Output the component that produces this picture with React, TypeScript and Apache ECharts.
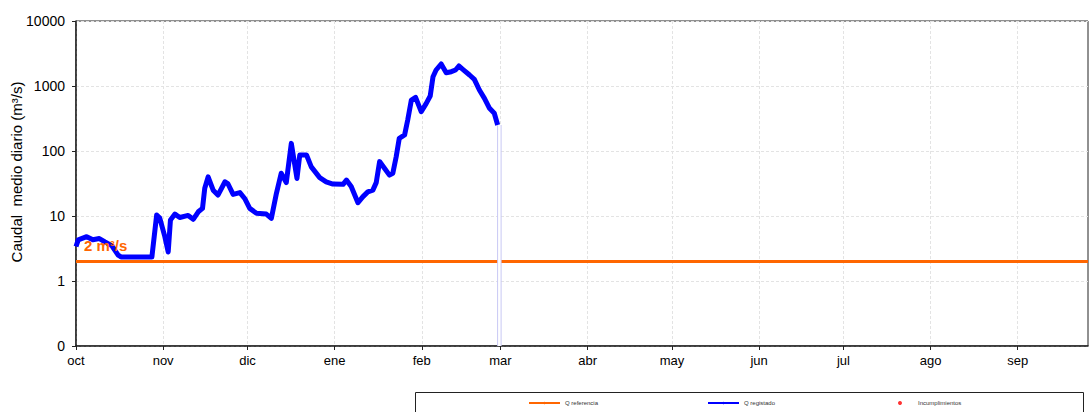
import React, { useEffect, useRef } from "react";
import * as echarts from "echarts";

// Days since 1 October (hydrological year)
const monthStarts = [0, 31, 61, 92, 123, 151, 182, 212, 243, 273, 304, 335];
const monthLabels = ["oct", "nov", "dic", "ene", "feb", "mar", "abr", "may", "jun", "jul", "ago", "sep"];
const yTicks = [0.1, 1, 10, 100, 1000, 10000];

const flowDays = [
  0, 0.8, 3.8, 6, 8.3, 10.3, 12.7, 15, 16, 27, 28.7, 29.8, 31.6, 32.8, 33.6, 35.2, 36.9, 39.9, 41.7, 43.5,
  45, 45.8, 47, 48.8, 50.5, 53, 54, 55.9, 58.3, 60, 61.8, 64.2, 67.7, 69.5, 71.3, 73, 74.8, 76.6, 78.6, 79.6,
  82, 83.7, 86.7, 89, 91.4, 95, 96.2, 97.9, 100.3, 102, 103.8, 105.6, 106.8, 108, 109.8, 111.5, 112.7, 113.9, 115, 116.9,
  118, 119.3, 120.8, 122.8, 124.6, 126, 127, 128.1, 129.9, 131.7, 133.5, 135, 136.2, 137.6, 140, 141.7, 143.5, 145.3, 147.1, 148.8,
  150,
];
const flowValues = [
  3.4, 4.3, 4.8, 4.3, 4.5, 4.0, 3.5, 2.5, 2.35, 2.35, 10.4, 9.3, 4.8, 2.8, 8.7, 10.7, 9.5, 10.2, 8.9, 11.6,
  13.1, 26.7, 40, 25, 21, 33.6, 31.6, 21.5, 22.9, 18.6, 13.1, 11, 10.7, 9.2, 22.3, 45.4, 32.6, 131, 37.8, 86.7,
  86.7, 57, 39, 33.6, 31, 30.7, 35.7, 28.5, 16, 19.7, 23.5, 25, 32.6, 68.7, 54, 42.6, 45.4, 81.6, 157, 177,
  300, 609, 670, 403, 541, 701, 1390, 1762, 2180, 1600, 1660, 1762, 2030, 1806, 1476, 1267, 867, 646, 454, 380,
  251,
];

const refValue = 2;
const refDays = [0, 360];
const dropDays = [150.6, 150.6];
const dropValues = [251, 0.1];

export default function App() {
  const ref = useRef<HTMLDivElement>(null);
  useEffect(() => {
    if (!ref.current) return;
    const chart = echarts.init(ref.current, null, { renderer: "svg" });
    const flowData = flowDays.map((d, i) => [d, flowValues[i]]);
    const refData = refDays.map((d) => [d, refValue]);
    const dropData = dropDays.map((d, i) => [d, dropValues[i]]);
    chart.setOption({
      animation: false,
      textStyle: { fontFamily: "Liberation Sans, Arial, sans-serif" },
      grid: {
        left: 76,
        top: 21,
        right: 1,
        bottom: 66,
        show: true,
        borderColor: "#222",
        borderWidth: 1,
        outerBoundsMode: "none",
        containLabel: false,
      },
      xAxis: {
        type: "value",
        min: 0,
        max: 360,
        axisLine: { lineStyle: { color: "#222", width: 1.5 } },
        axisTick: { customValues: monthStarts, length: 4, lineStyle: { color: "#222" } },
        axisLabel: {
          customValues: monthStarts,
          formatter: (v: number) => monthLabels[monthStarts.indexOf(Math.round(v))] ?? "",
          color: "#000",
          fontSize: 13,
          margin: 8,
        },
        splitLine: { show: true, lineStyle: { color: "#e3e3e3", type: [3, 2], width: 1 } },
      },
      yAxis: {
        type: "log",
        logBase: 10,
        min: 0.1,
        max: 10000,
        name: "Caudal  medio diario (m³/s)",
        nameLocation: "middle",
        nameGap: 52,
        nameMoveOverlap: false,
        nameTextStyle: { color: "#000", fontSize: 15, padding: [0, 0, 0, 23] },
        axisLine: { show: true, lineStyle: { color: "#222", width: 1.5 } },
        axisTick: { show: true, length: 4, lineStyle: { color: "#222" } },
        axisLabel: {
          customValues: yTicks,
          formatter: (v: number) => (v < 1 ? "0" : String(Math.round(v))),
          color: "#000",
          fontSize: 14,
          margin: 11,
        },
        splitLine: { show: true, lineStyle: { color: "#e3e3e3", type: [3, 2], width: 1 } },
      },
      legend: [
        {
          data: ["Q referencia"],
          left: 523,
          top: 395,
          itemWidth: 31,
          itemHeight: 3,
          textStyle: { fontSize: 6, color: "#333" },
        },
        {
          data: ["Q registado"],
          left: 702,
          top: 395,
          itemWidth: 31,
          itemHeight: 3,
          textStyle: { fontSize: 6, color: "#333" },
        },
        {
          data: [{ name: "Incumplimientos", icon: "circle" }],
          left: 893,
          top: 395,
          itemWidth: 4,
          itemHeight: 4,
          textStyle: { fontSize: 6, color: "#333", padding: [0, 0, 0, 11] },
        },
      ],
      graphic: [
        {
          type: "rect",
          shape: { x: 415.5, y: 392.5, width: 668, height: 40 },
          style: { fill: "none", stroke: "#222", lineWidth: 1 },
          silent: true,
        },
      ],
      series: [
        {
          name: "Q referencia",
          type: "line",
          data: refData,
          showSymbol: false,
          symbol: "none",
          color: "#ff6600",
          lineStyle: { color: "#ff6600", width: 3 },
          z: 1,
        },
        {
          name: "Q registado",
          type: "line",
          data: flowData,
          showSymbol: false,
          symbol: "none",
          color: "#0000ff",
          lineStyle: { color: "#0000ff", width: 5, join: "round" },
          z: 2,
        },
        {
          name: "drop-edge",
          type: "line",
          data: dropData,
          symbol: "none",
          lineStyle: { color: "#c8c8f4", width: 4.5 },
          z: 5,
          silent: true,
        },
        {
          name: "drop-core",
          type: "line",
          data: dropData,
          symbol: "none",
          lineStyle: { color: "#ffffff", width: 2.5 },
          z: 6,
          silent: true,
          markPoint: {
            z: 10,
            symbol: "circle",
            symbolSize: 1,
            itemStyle: { color: "rgba(0,0,0,0)" },
            data: [
              {
                coord: [refDays[0], refValue],
                label: {
                  show: true,
                  position: "right",
                  offset: [2.5, -16],
                  formatter: "2 m³/s",
                  color: "#ff6600",
                  fontWeight: "bold",
                  fontSize: 15,
                },
              },
            ],
          },
        },
        {
          name: "Incumplimientos",
          type: "scatter",
          data: [],
          color: "#ff0000",
          symbolSize: 4,
        },
      ],
    });
    return () => chart.dispose();
  }, []);
  return (
    <div
      ref={ref}
      style={{ position: "fixed", left: 0, top: 0, width: 1089, height: 412, background: "#fff" }}
    />
  );
}
